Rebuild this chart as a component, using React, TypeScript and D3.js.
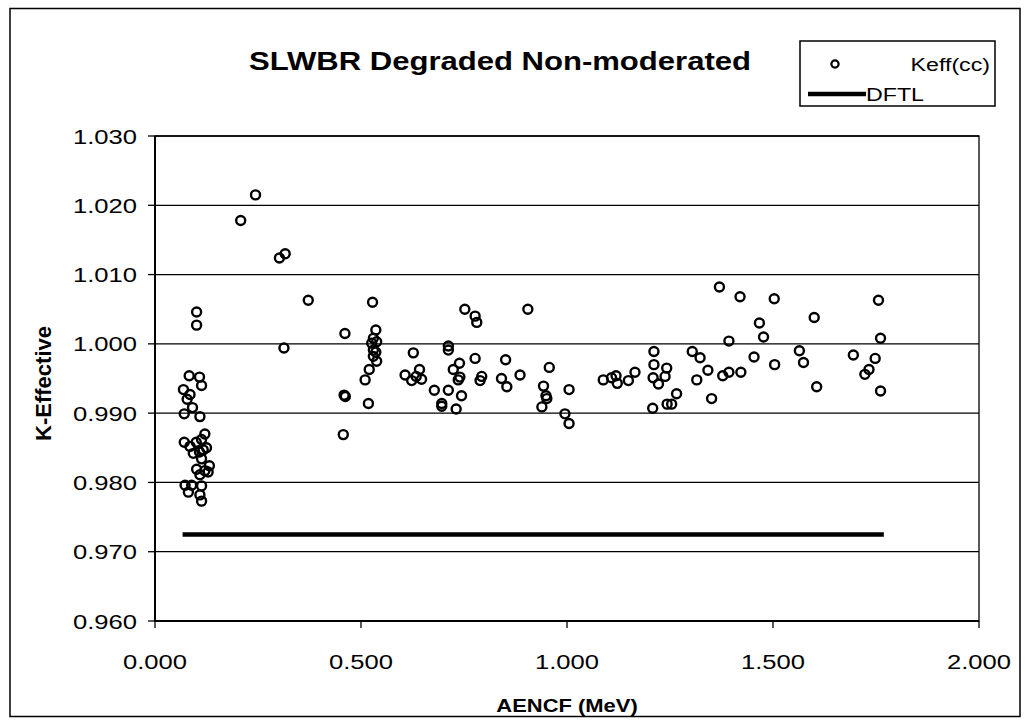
import React from "react";
import * as d3 from "d3";

const aencf: number[] = [
  0.101, 0.101, 0.083, 0.108, 0.113, 0.069, 0.085, 0.078, 0.091, 0.071, 0.109, 0.121, 0.113, 0.071, 0.085, 0.125,
  0.093, 0.108, 0.113, 0.132, 0.101, 0.121, 0.109, 0.129, 0.073, 0.089, 0.113, 0.081, 0.109, 0.113, 0.100, 0.117,
  0.208, 0.244, 0.302, 0.316, 0.313, 0.372,
  0.461, 0.459, 0.462, 0.457,
  0.528, 0.536, 0.530, 0.538, 0.526, 0.530, 0.536, 0.530, 0.538, 0.520, 0.510, 0.518,
  0.752, 0.777, 0.781, 0.905, 0.627, 0.712, 0.712, 0.777, 0.851, 0.739, 0.724, 0.642, 0.607, 0.623, 0.634, 0.647,
  0.736, 0.740, 0.793, 0.789, 0.841, 0.854, 0.886, 0.957, 0.678, 0.712, 0.744, 0.696, 0.696, 0.731, 0.943, 0.949,
  0.951, 0.939, 1.005, 0.995, 1.005, 1.088, 1.108, 1.119, 1.122, 1.149, 1.165, 1.211, 1.211, 1.209, 1.242, 1.238,
  1.222, 1.266, 1.208, 1.243, 1.254,
  1.370, 1.420, 1.503, 1.756, 1.467, 1.600, 1.477, 1.393, 1.761, 1.304, 1.323, 1.454, 1.564, 1.574, 1.695, 1.748,
  1.504, 1.342, 1.378, 1.393, 1.422, 1.733, 1.723, 1.315, 1.606, 1.761, 1.351,
];

const keff: number[] = [
  1.0046, 1.0027, 0.9954, 0.9952, 0.994, 0.9934, 0.9927, 0.992, 0.9908, 0.9899, 0.9895, 0.987, 0.9862, 0.9858, 0.9852, 0.985,
  0.9842, 0.9844, 0.9834, 0.9824, 0.9819, 0.9817, 0.9811, 0.9815, 0.9796, 0.9796, 0.9795, 0.9786, 0.9782, 0.9773, 0.9858, 0.9847,
  1.0178, 1.0215, 1.0124, 1.013, 0.9994, 1.0063,
  1.0015, 0.9926, 0.9924, 0.9869,
  1.006, 1.002, 1.0008, 1.0003, 1.0001, 0.9991, 0.9988, 0.9982, 0.9975, 0.9963, 0.9948, 0.9914,
  1.005, 1.004, 1.0031, 1.005, 0.9987, 0.9997, 0.9991, 0.9979, 0.9977, 0.9972, 0.9963, 0.9963, 0.9955, 0.9947, 0.9953, 0.9949,
  0.9948, 0.9952, 0.9953, 0.9947, 0.995, 0.9938, 0.9955, 0.9966, 0.9933, 0.9933, 0.9925, 0.9914, 0.991, 0.9906, 0.9939, 0.9925,
  0.9921, 0.9909, 0.9934, 0.9899, 0.9885, 0.9948, 0.9951, 0.9954, 0.9943, 0.9947, 0.9959, 0.9989, 0.997, 0.9951, 0.9965, 0.9953,
  0.9942, 0.9928, 0.9907, 0.9913, 0.9913,
  1.0082, 1.0068, 1.0065, 1.0063, 1.003, 1.0038, 1.001, 1.0004, 1.0008, 0.9989, 0.998, 0.9981, 0.999, 0.9973, 0.9984, 0.9979,
  0.997, 0.9962, 0.9954, 0.9959, 0.9959, 0.9963, 0.9956, 0.9948, 0.9938, 0.9932, 0.9921,
];

const dftlX: number[] = [0.067, 1.769];
const dftlY: number[] = [0.9725, 0.9725];

const xTicks: number[] = [0, 0.5, 1.0, 1.5, 2.0];
const yTicks: number[] = [0.96, 0.97, 0.98, 0.99, 1.0, 1.01, 1.02, 1.03];

const title = "SLWBR Degraded Non-moderated";
const xTitle = "AENCF (MeV)";
const yTitle = "K-Effective";
const seriesNames = ["Keff(cc)", "DFTL"];

const FONT = "'Liberation Sans', Arial, Helvetica, sans-serif";
const SX = 1.22;

export default function App() {
  const left = 155, right = 979, top = 136, bottom = 621;
  const x = d3.scaleLinear().domain([0, 2]).range([left, right]);
  const y = d3.scaleLinear().domain([0.96, 1.03]).range([bottom, top]);
  const pts = aencf.map((v, i) => [v, keff[i]] as [number, number]);
  const line = d3.line<[number, number]>().x((d) => x(d[0])).y((d) => y(d[1]));
  const dftl = dftlX.map((v, i) => [v, dftlY[i]] as [number, number]);

  return (
    <svg
      width={1029}
      height={728}
      style={{ position: "absolute", left: 0, top: 0, background: "#fff" }}
      fontFamily={FONT}
    >
      <rect x={0} y={0} width={1029} height={728} fill="#fff" />
      <rect x={10} y={8.5} width={1010} height={708} fill="none" stroke="#000" strokeWidth={1.5} />

      {/* gridlines */}
      {yTicks.map((t) => (
        <line key={"g" + t} x1={left} x2={right} y1={y(t)} y2={y(t)} stroke="#000" strokeWidth={1.3} />
      ))}
      {/* plot border */}
      <rect x={left} y={top} width={right - left} height={bottom - top} fill="none" stroke="#000" strokeWidth={1.3} />
      <line x1={left} x2={left} y1={top} y2={bottom} stroke="#000" strokeWidth={2} />
      <line x1={left} x2={right} y1={bottom} y2={bottom} stroke="#000" strokeWidth={2} />

      {/* y ticks */}
      {yTicks.map((t) => (
        <g key={"yt" + t}>
          <line x1={left - 7} x2={left} y1={y(t)} y2={y(t)} stroke="#000" strokeWidth={1.3} />
          <text
            transform={`translate(${left - 18},${y(t) + 7.5}) scale(${SX},1)`}
            textAnchor="end"
            fontSize={21}
            fill="#000"
          >
            {t.toFixed(3)}
          </text>
        </g>
      ))}
      {/* x ticks */}
      {xTicks.map((t) => (
        <g key={"xt" + t}>
          <line x1={x(t)} x2={x(t)} y1={bottom} y2={bottom + 7} stroke="#000" strokeWidth={1.3} />
          <text
            transform={`translate(${x(t)},${bottom + 48}) scale(${SX},1)`}
            textAnchor="middle"
            fontSize={21}
            fill="#000"
          >
            {t.toFixed(3)}
          </text>
        </g>
      ))}

      {/* DFTL line */}
      <path d={line(dftl) || ""} fill="none" stroke="#000" strokeWidth={4.5} />

      {/* Keff markers */}
      {pts.map((p, i) => (
        <circle key={i} cx={x(p[0])} cy={y(p[1])} r={4.5} fill="none" stroke="#000" strokeWidth={2.4} />
      ))}

      {/* titles */}
      <text x={500} y={70} textAnchor="middle" fontSize={25} fontWeight="bold" textLength={502} lengthAdjust="spacingAndGlyphs">
        {title}
      </text>
      <text
        transform={`translate(${(left + right) / 2},${712}) scale(${SX},1)`}
        textAnchor="middle"
        fontSize={18}
        fontWeight="bold"
      >
        {xTitle}
      </text>
      <text
        transform={`translate(51,${(top + bottom) / 2 + 5}) rotate(-90)`}
        textAnchor="middle"
        fontSize={22}
        fontWeight="bold"
      >
        {yTitle}
      </text>

      {/* legend */}
      <rect x={800} y={41} width={195} height={65} fill="#fff" stroke="#000" strokeWidth={1.5} />
      <circle cx={835} cy={64} r={3.6} fill="none" stroke="#000" strokeWidth={2.2} />
      <text transform={`translate(990,71) scale(${SX},1)`} textAnchor="end" fontSize={19}>
        {seriesNames[0]}
      </text>
      <line x1={808} x2={866} y1={94} y2={94} stroke="#000" strokeWidth={4.5} />
      <text transform={`translate(866,101) scale(${SX},1)`} textAnchor="start" fontSize={19}>
        {seriesNames[1]}
      </text>
    </svg>
  );
}
